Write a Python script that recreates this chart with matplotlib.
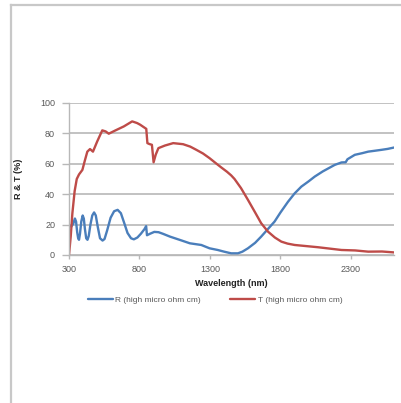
import matplotlib
matplotlib.use("Agg")
import matplotlib.pyplot as plt
from matplotlib.lines import Line2D

# Data
r_wl = [300, 315, 330, 342, 350, 358, 365, 371, 378, 387, 397, 405, 413, 422,
        431, 440, 452, 465, 478, 490, 505, 520, 538, 552, 570, 595, 620, 645,
        668, 690, 715, 740, 760, 785, 810, 835, 847, 853, 875, 905, 935, 965,
        1016, 1100, 1157, 1238, 1297, 1355, 1400, 1450, 1498, 1530, 1569, 1620,
        1663, 1710, 1758, 1800, 1853, 1900, 1948, 2000, 2043, 2100, 2185, 2233,
        2262, 2275, 2327, 2380, 2422, 2470, 2517, 2560, 2605]
r_val = [19.8, 18.6, 20.5, 24, 22, 15, 11, 10, 14, 22, 26, 24, 17, 11,
         10, 12.5, 20, 26, 28, 26, 18, 11, 9.5, 10.5, 16, 24.5, 28.8, 29.7,
         27.5, 21.5, 14.5, 11, 10.3, 11.5, 14, 17, 19, 13, 14, 15.2, 15, 14,
         12.1, 9.5, 7.7, 6.6, 4.4, 3.3, 2.2, 1.1, 1.1, 2.2, 4.4, 8,
         12.1, 17, 22, 28, 35, 40.5, 45, 48.5, 51.6, 55, 59.3, 60.9,
         61, 63, 65.9, 67, 68, 68.6, 69.2, 69.8, 70.7]

t_wl = [300, 312, 324, 340, 355, 371, 395, 412, 430, 449, 470, 500, 536, 560,
        582, 630, 689, 748, 783, 805, 840, 848, 856, 870, 888, 900, 915, 934,
        980, 1039, 1109, 1160, 1203, 1250, 1297, 1340, 1380, 1420, 1450, 1474,
        1520, 1569, 1620, 1663, 1711, 1760, 1806, 1850, 1900, 2067, 2232, 2330,
        2422, 2520, 2605]
t_val = [0, 12, 27.5, 42, 50, 53, 56, 62, 68, 69.7, 68, 74.7, 82, 81.3,
         79.8, 82, 84.6, 87.9, 86.8, 85.7, 83.5, 83, 73.6, 73, 72.5, 61, 66, 70.3,
         72, 73.6, 72.9, 71.3, 69.2, 66.8, 63.7, 60.5, 57.6, 54.8, 52.4, 50,
         44, 36.3, 28, 20.9, 15.4, 11.5, 8.8, 7.5, 6.6, 5.1, 3.3, 3.0,
         2.2, 2.3, 1.7]

x_ticks = [300, 800, 1300, 1800, 2300]
y_ticks = [0, 20, 40, 60, 80, 100]
labels = ["R (high micro ohm cm)", "T (high micro ohm cm)"]
colors = ["#4a7ebb", "#be4b48"]

fig = plt.figure(figsize=(4.01, 4.03), dpi=100)
plt.rcParams['font.family'] = ['Liberation Sans', 'DejaVu Sans']

# outer chart frame (top and left edges visible)
fig.add_artist(Line2D([11 / 401, 11 / 401], [0, 1 - 5 / 403], transform=fig.transFigure,
                      color="#c8c8c8", lw=1.6))
fig.add_artist(Line2D([11 / 401, 1], [1 - 5 / 403, 1 - 5 / 403], transform=fig.transFigure,
                      color="#c8c8c8", lw=1.6))

ax = fig.add_axes([69 / 401, 1 - 255 / 403, (394 - 69) / 401, (255 - 103) / 403])
ax.plot(r_wl, r_val, color=colors[0], lw=1.7, label=labels[0],
        solid_joinstyle="round", solid_capstyle="round")
ax.plot(t_wl, t_val, color=colors[1], lw=1.7, label=labels[1],
        solid_joinstyle="round", solid_capstyle="round")

ax.set_xlim(300, 2605)
ax.set_ylim(0, 100)
ax.set_xticks(x_ticks)
ax.set_yticks(y_ticks)
ax.yaxis.grid(True, color="#b8b8b8", lw=1.2)
ax.set_axisbelow(True)
for s in ["top", "right"]:
    ax.spines[s].set_visible(False)
for s in ["left", "bottom"]:
    ax.spines[s].set_color("#b8b8b8")
    ax.spines[s].set_linewidth(1.0)
ax.tick_params(axis="both", colors="#b8b8b8", labelcolor="#595959", labelsize=6.5,
               length=3, width=1.0)
ax.tick_params(axis="y", length=5, pad=5)
ax.tick_params(axis="x", pad=4)

ax.set_xlabel("Wavelength (nm)", fontsize=6.5, fontweight="bold", color="#222222", labelpad=4)
ax.set_ylabel("R & T (%)", fontsize=6.5, fontweight="bold", color="#222222", labelpad=12)

leg = fig.legend(loc="center", bbox_to_anchor=(215 / 401, 1 - 300 / 403), ncol=2,
                 frameon=False, fontsize=6, handlelength=3, handletextpad=0.3,
                 columnspacing=3.5)
for t in leg.get_texts():
    t.set_color("#595959")

fig.savefig("out.png", dpi=100)
